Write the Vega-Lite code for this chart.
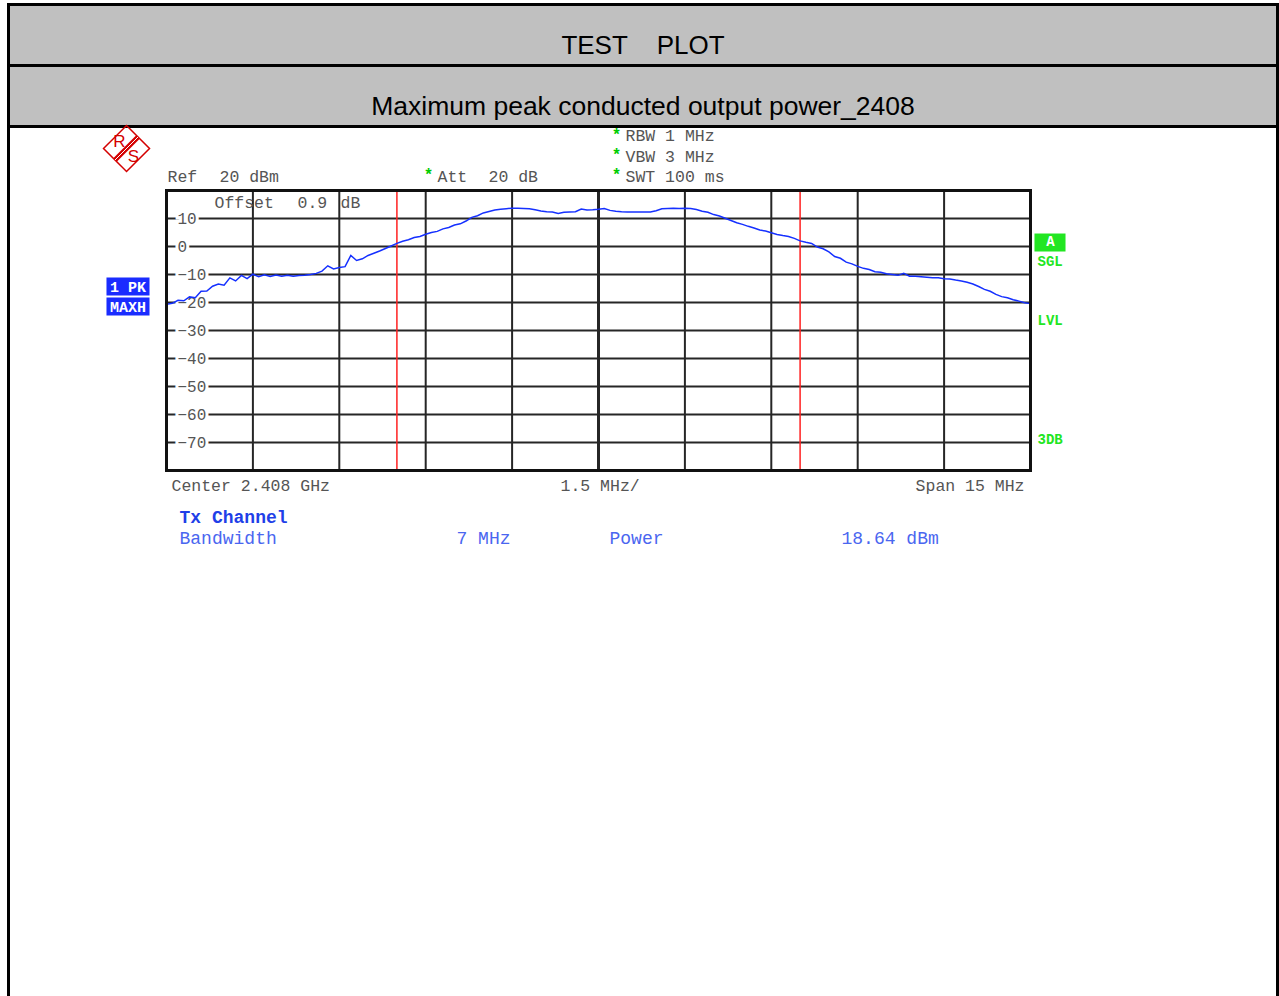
{
  "$schema": "https://vega.github.io/schema/vega-lite/v6.json",
  "padding": {"left": 6.5, "top": 2.5, "right": 0, "bottom": 0},
  "spacing": 0,
  "bounds": "flush",
  "config": {"text": {"font": "Liberation Mono"}},
  "vconcat": [
    {
      "width": 1269, "height": 61,
      "view": {"fill": "#c0c0c0", "stroke": "#000000", "strokeWidth": 3},
      "data": {"values": [{}]},
      "mark": {"type": "text", "text": "TEST\u00a0\u00a0\u00a0\u00a0PLOT", "font": "Liberation Sans", "fontSize": 26, "baseline": "alphabetic", "dy": 18.5, "color": "#000000"},
      "encoding": {}
    },
    {
      "width": 1269, "height": 61,
      "view": {"fill": "#c0c0c0", "stroke": "#000000", "strokeWidth": 3},
      "data": {"values": [{}]},
      "mark": {"type": "text", "text": "Maximum peak conducted output power_2408", "font": "Liberation Sans", "fontSize": 26.5, "baseline": "alphabetic", "dy": 18.5, "color": "#000000"},
      "encoding": {}
    },
    {
      "width": 1269, "height": 880,
      "view": {"fill": "#ffffff", "stroke": "#000000", "strokeWidth": 3},
      "data": {"values": [{}]},
      "layer": [
        {
          "data": {"values": [{"g": 2402.0}, {"g": 2403.5}, {"g": 2405.0}, {"g": 2406.5}, {"g": 2409.5}, {"g": 2411.0}, {"g": 2412.5}, {"g": 2414.0}]},
          "mark": {"type": "rule", "color": "#262626", "strokeWidth": 2},
          "encoding": {
            "x": {"field": "g", "type": "quantitative", "scale": {"domain": [2400.5, 2415.5], "range": [158, 1022], "nice": false, "zero": false}, "axis": null},
            "y": {"datum": -80, "scale": {"domain": [-80, 20], "range": [344, 64], "nice": false, "zero": false}, "axis": null},
            "y2": {"datum": 20}
          }
        },
        {
          "mark": {"type": "rule", "color": "#262626", "strokeWidth": 3},
          "encoding": {"x": {"datum": 2408.0}, "y": {"datum": -80}, "y2": {"datum": 20}}
        },
        {
          "data": {"values": [{"v": 10, "label": "10"}, {"v": 0, "label": "0"}, {"v": -10, "label": "\u221210"}, {"v": -20, "label": "\u221220"}, {"v": -30, "label": "\u221230"}, {"v": -40, "label": "\u221240"}, {"v": -50, "label": "\u221250"}, {"v": -60, "label": "\u221260"}, {"v": -70, "label": "\u221270"}]},
          "layer": [
            {"mark": {"type": "rule", "color": "#262626", "strokeWidth": 2}, "encoding": {"y": {"field": "v", "type": "quantitative"}, "x": {"datum": 2400.5}, "x2": {"datum": 2415.5}}},
            {"mark": {"type": "text", "align": "left", "baseline": "middle", "fontSize": 16, "fill": "#ffffff", "stroke": "#ffffff", "strokeWidth": 6}, "encoding": {"y": {"field": "v", "type": "quantitative"}, "x": {"datum": 2400.69}, "text": {"field": "label"}}},
            {"mark": {"type": "text", "align": "left", "baseline": "middle", "fontSize": 16, "color": "#555555"}, "encoding": {"y": {"field": "v", "type": "quantitative"}, "x": {"datum": 2400.69}, "text": {"field": "label"}}}
          ]
        },
        {"mark": {"type": "rule", "color": "#ff2020", "strokeWidth": 1.5}, "encoding": {"x": {"datum": 2404.5}, "y": {"datum": -80}, "y2": {"datum": 20}}},
        {"mark": {"type": "rule", "color": "#ff2020", "strokeWidth": 1.5}, "encoding": {"x": {"datum": 2411.5}, "y": {"datum": -80}, "y2": {"datum": 20}}},
        {
          "data": {"values": [
            {"f": 2400.5, "p": -20.6}, {"f": 2400.6, "p": -20.3}, {"f": 2400.7, "p": -19.2}, {"f": 2400.8, "p": -19.4}, {"f": 2400.9, "p": -18.0},
            {"f": 2401.0, "p": -18.3}, {"f": 2401.1, "p": -16.0}, {"f": 2401.2, "p": -15.9}, {"f": 2401.3, "p": -14.2}, {"f": 2401.4, "p": -13.4},
            {"f": 2401.5, "p": -13.8}, {"f": 2401.6, "p": -11.2}, {"f": 2401.7, "p": -12.3}, {"f": 2401.8, "p": -10.3}, {"f": 2401.9, "p": -11.5},
            {"f": 2402.0, "p": -9.9}, {"f": 2402.1, "p": -10.8}, {"f": 2402.2, "p": -10.1}, {"f": 2402.3, "p": -10.7}, {"f": 2402.4, "p": -10.2},
            {"f": 2402.5, "p": -10.6}, {"f": 2402.6, "p": -10.3}, {"f": 2402.7, "p": -10.6}, {"f": 2402.8, "p": -10.4}, {"f": 2402.9, "p": -10.3},
            {"f": 2403.0, "p": -10.0}, {"f": 2403.1, "p": -9.6}, {"f": 2403.2, "p": -8.8}, {"f": 2403.3, "p": -6.9}, {"f": 2403.4, "p": -8.0},
            {"f": 2403.5, "p": -7.5}, {"f": 2403.6, "p": -7.2}, {"f": 2403.7, "p": -3.2}, {"f": 2403.8, "p": -5.0}, {"f": 2403.9, "p": -4.4},
            {"f": 2404.0, "p": -3.2}, {"f": 2404.1, "p": -2.4}, {"f": 2404.2, "p": -1.6}, {"f": 2404.3, "p": -0.7}, {"f": 2404.4, "p": 0.2},
            {"f": 2404.5, "p": 1.1}, {"f": 2404.6, "p": 1.9}, {"f": 2404.7, "p": 2.4}, {"f": 2404.8, "p": 3.2}, {"f": 2404.9, "p": 3.6},
            {"f": 2405.0, "p": 4.4}, {"f": 2405.1, "p": 5.0}, {"f": 2405.2, "p": 5.4}, {"f": 2405.3, "p": 6.3}, {"f": 2405.4, "p": 6.8},
            {"f": 2405.5, "p": 7.7}, {"f": 2405.6, "p": 8.1}, {"f": 2405.7, "p": 9.1}, {"f": 2405.8, "p": 10.4}, {"f": 2405.9, "p": 11.0},
            {"f": 2406.0, "p": 12.0}, {"f": 2406.1, "p": 12.5}, {"f": 2406.2, "p": 13.0}, {"f": 2406.3, "p": 13.3}, {"f": 2406.4, "p": 13.5},
            {"f": 2406.5, "p": 13.7}, {"f": 2406.6, "p": 13.7}, {"f": 2406.7, "p": 13.6}, {"f": 2406.8, "p": 13.5}, {"f": 2406.9, "p": 13.1},
            {"f": 2407.0, "p": 12.7}, {"f": 2407.1, "p": 12.4}, {"f": 2407.2, "p": 12.3}, {"f": 2407.3, "p": 11.8}, {"f": 2407.4, "p": 12.2},
            {"f": 2407.5, "p": 12.3}, {"f": 2407.6, "p": 12.4}, {"f": 2407.7, "p": 13.4}, {"f": 2407.8, "p": 13.0}, {"f": 2407.9, "p": 13.1},
            {"f": 2408.0, "p": 13.3}, {"f": 2408.1, "p": 13.6}, {"f": 2408.2, "p": 12.9}, {"f": 2408.3, "p": 12.6}, {"f": 2408.4, "p": 12.4},
            {"f": 2408.5, "p": 12.3}, {"f": 2408.6, "p": 12.3}, {"f": 2408.7, "p": 12.3}, {"f": 2408.8, "p": 12.3}, {"f": 2408.9, "p": 12.3},
            {"f": 2409.0, "p": 12.8}, {"f": 2409.1, "p": 13.5}, {"f": 2409.2, "p": 13.6}, {"f": 2409.3, "p": 13.7}, {"f": 2409.4, "p": 13.6},
            {"f": 2409.5, "p": 13.7}, {"f": 2409.6, "p": 13.6}, {"f": 2409.7, "p": 13.2}, {"f": 2409.8, "p": 12.6}, {"f": 2409.9, "p": 12.2},
            {"f": 2410.0, "p": 11.4}, {"f": 2410.1, "p": 10.9}, {"f": 2410.2, "p": 10.1}, {"f": 2410.3, "p": 9.3}, {"f": 2410.4, "p": 8.5},
            {"f": 2410.5, "p": 7.9}, {"f": 2410.6, "p": 7.2}, {"f": 2410.7, "p": 6.6}, {"f": 2410.8, "p": 5.9}, {"f": 2410.9, "p": 5.5},
            {"f": 2411.0, "p": 4.9}, {"f": 2411.1, "p": 4.3}, {"f": 2411.2, "p": 3.9}, {"f": 2411.3, "p": 3.6}, {"f": 2411.4, "p": 2.9},
            {"f": 2411.5, "p": 2.0}, {"f": 2411.6, "p": 1.5}, {"f": 2411.7, "p": 1.1}, {"f": 2411.8, "p": -0.2}, {"f": 2411.9, "p": -0.8},
            {"f": 2412.0, "p": -1.9}, {"f": 2412.1, "p": -3.6}, {"f": 2412.2, "p": -4.2}, {"f": 2412.3, "p": -5.6}, {"f": 2412.4, "p": -6.2},
            {"f": 2412.5, "p": -7.1}, {"f": 2412.6, "p": -7.8}, {"f": 2412.7, "p": -8.2}, {"f": 2412.8, "p": -9.0}, {"f": 2412.9, "p": -9.2},
            {"f": 2413.0, "p": -9.7}, {"f": 2413.1, "p": -10.0}, {"f": 2413.2, "p": -10.3}, {"f": 2413.3, "p": -9.6}, {"f": 2413.4, "p": -10.6},
            {"f": 2413.5, "p": -10.6}, {"f": 2413.6, "p": -10.8}, {"f": 2413.7, "p": -11.0}, {"f": 2413.8, "p": -11.2}, {"f": 2413.9, "p": -11.2},
            {"f": 2414.0, "p": -11.5}, {"f": 2414.1, "p": -11.6}, {"f": 2414.2, "p": -12.0}, {"f": 2414.3, "p": -12.3}, {"f": 2414.4, "p": -12.8},
            {"f": 2414.5, "p": -13.4}, {"f": 2414.6, "p": -14.3}, {"f": 2414.7, "p": -15.3}, {"f": 2414.8, "p": -16.0}, {"f": 2414.9, "p": -17.1},
            {"f": 2415.0, "p": -17.9}, {"f": 2415.1, "p": -18.3}, {"f": 2415.2, "p": -19.0}, {"f": 2415.3, "p": -19.5}, {"f": 2415.4, "p": -20.1},
            {"f": 2415.5, "p": -20.4}
          ]},
          "mark": {"type": "line", "color": "#1530ff", "strokeWidth": 1.5},
          "encoding": {"x": {"field": "f", "type": "quantitative"}, "y": {"field": "p", "type": "quantitative"}}
        },
        {"mark": {"type": "rect", "filled": false, "stroke": "#111111", "strokeWidth": 3, "fill": null}, "encoding": {"x": {"datum": 2400.5}, "x2": {"datum": 2415.5}, "y": {"datum": -80}, "y2": {"datum": 20}}},

        {"mark": {"type": "point", "shape": "diamond", "size": 2116, "filled": false, "stroke": "#d40000", "strokeWidth": 1.5, "opacity": 1}, "encoding": {"x": {"datum": 2399.806}, "y": {"datum": 35.0}}},
        {"mark": {"type": "rule", "color": "#d40000", "strokeWidth": 5}, "encoding": {"x": {"datum": 2399.606}, "y": {"datum": 30.89}, "x2": {"datum": 2400.005}, "y2": {"datum": 39.11}}},
        {"mark": {"type": "rule", "color": "#ffffff", "strokeWidth": 1}, "encoding": {"x": {"datum": 2399.606}, "y": {"datum": 30.89}, "x2": {"datum": 2400.005}, "y2": {"datum": 39.11}}},
        {"mark": {"type": "text", "font": "Liberation Sans", "fontSize": 17, "color": "#d40000", "align": "center", "baseline": "middle"}, "encoding": {"x": {"datum": 2399.684}, "y": {"datum": 37.5}, "text": {"value": "R"}}},
        {"mark": {"type": "text", "font": "Liberation Sans", "fontSize": 17, "color": "#d40000", "align": "center", "baseline": "middle"}, "encoding": {"x": {"datum": 2399.927}, "y": {"datum": 32.14}, "text": {"value": "S"}}},

        {"mark": {"type": "text", "fontSize": 16.5, "color": "#555555", "align": "left", "baseline": "middle"}, "encoding": {"x": {"datum": 2400.517}, "y": {"datum": 25.0}, "text": {"value": "Ref"}}},
        {"mark": {"type": "text", "fontSize": 16.5, "color": "#555555", "align": "left", "baseline": "middle"}, "encoding": {"x": {"datum": 2401.42}, "y": {"datum": 25.0}, "text": {"value": "20 dBm"}}},
        {"mark": {"type": "text", "fontSize": 16, "color": "#00cc00", "align": "center", "baseline": "middle", "fontWeight": "bold"}, "encoding": {"x": {"datum": 2405.049}, "y": {"datum": 25.4}, "text": {"value": "*"}}},
        {"mark": {"type": "text", "fontSize": 16.5, "color": "#555555", "align": "left", "baseline": "middle"}, "encoding": {"x": {"datum": 2405.205}, "y": {"datum": 25.0}, "text": {"value": "Att"}}},
        {"mark": {"type": "text", "fontSize": 16.5, "color": "#555555", "align": "left", "baseline": "middle"}, "encoding": {"x": {"datum": 2406.09}, "y": {"datum": 25.0}, "text": {"value": "20 dB"}}},
        {"mark": {"type": "text", "fontSize": 16, "color": "#00cc00", "align": "center", "baseline": "middle", "fontWeight": "bold"}, "encoding": {"x": {"datum": 2408.3125}, "y": {"datum": 39.7}, "text": {"value": "*"}}},
        {"mark": {"type": "text", "fontSize": 16, "color": "#00cc00", "align": "center", "baseline": "middle", "fontWeight": "bold"}, "encoding": {"x": {"datum": 2408.3125}, "y": {"datum": 32.55}, "text": {"value": "*"}}},
        {"mark": {"type": "text", "fontSize": 16, "color": "#00cc00", "align": "center", "baseline": "middle", "fontWeight": "bold"}, "encoding": {"x": {"datum": 2408.3125}, "y": {"datum": 25.4}, "text": {"value": "*"}}},
        {"mark": {"type": "text", "fontSize": 16.5, "color": "#555555", "align": "left", "baseline": "middle"}, "encoding": {"x": {"datum": 2408.469}, "y": {"datum": 39.29}, "text": {"value": "RBW 1 MHz"}}},
        {"mark": {"type": "text", "fontSize": 16.5, "color": "#555555", "align": "left", "baseline": "middle"}, "encoding": {"x": {"datum": 2408.469}, "y": {"datum": 32.14}, "text": {"value": "VBW 3 MHz"}}},
        {"mark": {"type": "text", "fontSize": 16.5, "color": "#555555", "align": "left", "baseline": "middle"}, "encoding": {"x": {"datum": 2408.469}, "y": {"datum": 25.0}, "text": {"value": "SWT 100 ms"}}},
        {"mark": {"type": "text", "fontSize": 16.5, "color": "#555555", "align": "left", "baseline": "middle"}, "encoding": {"x": {"datum": 2401.333}, "y": {"datum": 15.71}, "text": {"value": "Offset"}}},
        {"mark": {"type": "text", "fontSize": 16.5, "color": "#555555", "align": "left", "baseline": "middle"}, "encoding": {"x": {"datum": 2402.774}, "y": {"datum": 15.71}, "text": {"value": "0.9"}}},
        {"mark": {"type": "text", "fontSize": 16.5, "color": "#555555", "align": "left", "baseline": "middle"}, "encoding": {"x": {"datum": 2403.521}, "y": {"datum": 15.71}, "text": {"value": "dB"}}},

        {"mark": {"type": "rect", "color": "#1a2cff"}, "encoding": {"x": {"datum": 2399.458}, "x2": {"datum": 2400.205}, "y": {"datum": -11.07}, "y2": {"datum": -17.5}}},
        {"mark": {"type": "rect", "color": "#1a2cff"}, "encoding": {"x": {"datum": 2399.458}, "x2": {"datum": 2400.205}, "y": {"datum": -18.21}, "y2": {"datum": -24.64}}},
        {"mark": {"type": "text", "fontSize": 15, "fontWeight": "bold", "color": "#ffffff", "align": "center", "baseline": "middle"}, "encoding": {"x": {"datum": 2399.832}, "y": {"datum": -14.29}, "text": {"value": "1 PK"}}},
        {"mark": {"type": "text", "fontSize": 15, "fontWeight": "bold", "color": "#ffffff", "align": "center", "baseline": "middle"}, "encoding": {"x": {"datum": 2399.832}, "y": {"datum": -21.43}, "text": {"value": "MAXH"}}},

        {"mark": {"type": "rect", "color": "#22e622"}, "encoding": {"x": {"datum": 2415.569}, "x2": {"datum": 2416.108}, "y": {"datum": 4.64}, "y2": {"datum": -1.79}}},
        {"mark": {"type": "text", "fontSize": 14, "fontWeight": "bold", "color": "#ffffff", "align": "center", "baseline": "middle"}, "encoding": {"x": {"datum": 2415.847}, "y": {"datum": 1.43}, "text": {"value": "A"}}},
        {"mark": {"type": "text", "fontSize": 14, "fontWeight": "bold", "color": "#22e622", "align": "left", "baseline": "middle"}, "encoding": {"x": {"datum": 2415.622}, "y": {"datum": -5.36}, "text": {"value": "SGL"}}},
        {"mark": {"type": "text", "fontSize": 14, "fontWeight": "bold", "color": "#22e622", "align": "left", "baseline": "middle"}, "encoding": {"x": {"datum": 2415.622}, "y": {"datum": -26.43}, "text": {"value": "LVL"}}},
        {"mark": {"type": "text", "fontSize": 14, "fontWeight": "bold", "color": "#22e622", "align": "left", "baseline": "middle"}, "encoding": {"x": {"datum": 2415.622}, "y": {"datum": -68.93}, "text": {"value": "3DB"}}},

        {"mark": {"type": "text", "fontSize": 16.5, "color": "#555555", "align": "left", "baseline": "middle"}, "encoding": {"x": {"datum": 2400.587}, "y": {"datum": -85.36}, "text": {"value": "Center 2.408 GHz"}}},
        {"mark": {"type": "text", "fontSize": 16.5, "color": "#555555", "align": "left", "baseline": "middle"}, "encoding": {"x": {"datum": 2407.34}, "y": {"datum": -85.36}, "text": {"value": "1.5 MHz/"}}},
        {"mark": {"type": "text", "fontSize": 16.5, "color": "#555555", "align": "right", "baseline": "middle"}, "encoding": {"x": {"datum": 2415.396}, "y": {"datum": -85.36}, "text": {"value": "Span 15 MHz"}}},

        {"mark": {"type": "text", "fontSize": 18, "fontWeight": "bold", "color": "#1f3fe8", "align": "left", "baseline": "middle"}, "encoding": {"x": {"datum": 2400.726}, "y": {"datum": -96.79}, "text": {"value": "Tx Channel"}}},
        {"mark": {"type": "text", "fontSize": 18, "color": "#4a66f0", "align": "left", "baseline": "middle"}, "encoding": {"x": {"datum": 2400.726}, "y": {"datum": -104.29}, "text": {"value": "Bandwidth"}}},
        {"mark": {"type": "text", "fontSize": 18, "color": "#4a66f0", "align": "left", "baseline": "middle"}, "encoding": {"x": {"datum": 2405.535}, "y": {"datum": -104.29}, "text": {"value": "7 MHz"}}},
        {"mark": {"type": "text", "fontSize": 18, "color": "#4a66f0", "align": "left", "baseline": "middle"}, "encoding": {"x": {"datum": 2408.191}, "y": {"datum": -104.29}, "text": {"value": "Power"}}},
        {"mark": {"type": "text", "fontSize": 18, "color": "#4a66f0", "align": "left", "baseline": "middle"}, "encoding": {"x": {"datum": 2412.219}, "y": {"datum": -104.29}, "text": {"value": "18.64 dBm"}}}
      ]
    }
  ]
}
